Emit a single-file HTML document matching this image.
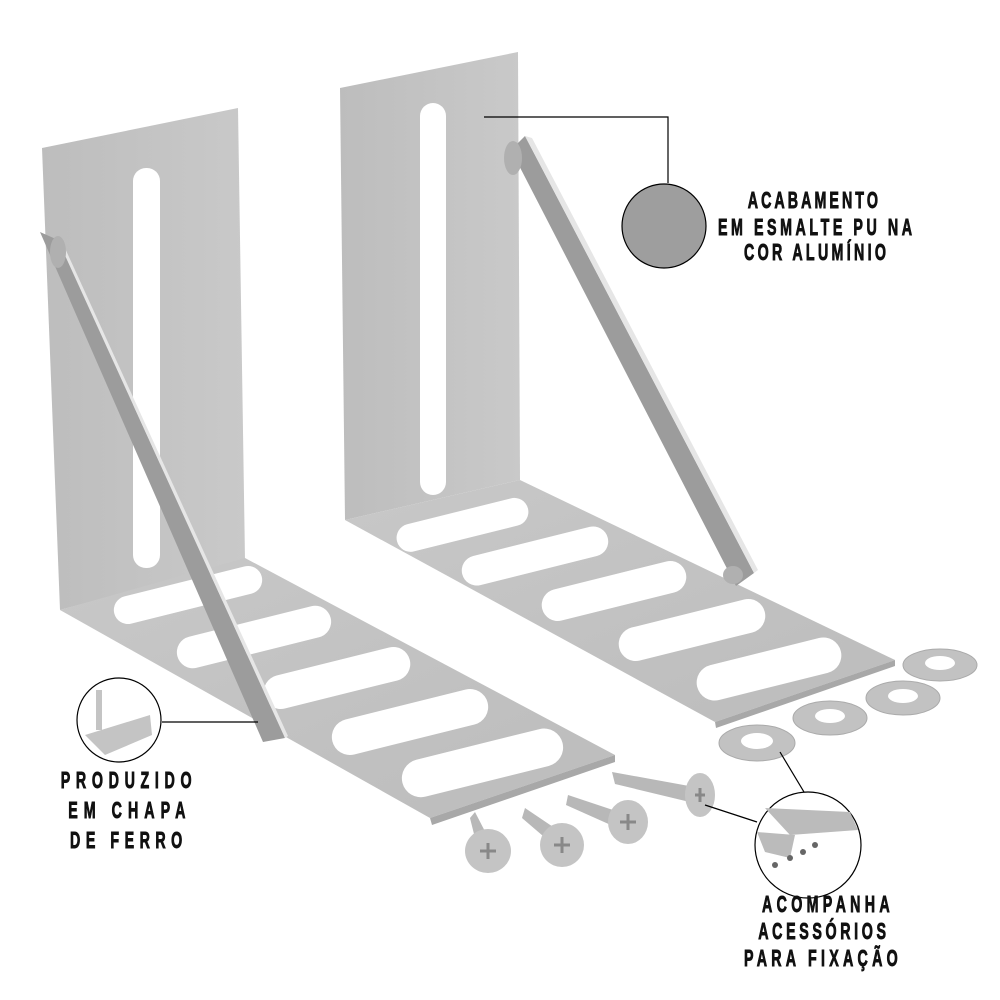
<!DOCTYPE html>
<html><head><meta charset="utf-8"><style>
html,body{margin:0;padding:0;background:#fff;width:1000px;height:1000px;overflow:hidden}
svg{display:block}
text{font-family:"Liberation Sans",sans-serif;font-weight:bold;font-size:23px;fill:#111;stroke:#111;stroke-width:0.9px}
</style></head><body>
<svg width="1000" height="1000" viewBox="0 0 1000 1000" xmlns="http://www.w3.org/2000/svg">
<defs>
<linearGradient id="up" x1="0" y1="0" x2="1" y2="0"><stop offset="0" stop-color="#bdbdbd"/><stop offset="1" stop-color="#c9c9c9"/></linearGradient>
<linearGradient id="bs" x1="0" y1="0" x2="1" y2="1"><stop offset="0" stop-color="#c8c8c8"/><stop offset="1" stop-color="#bcbcbc"/></linearGradient>
</defs>
<!-- RIGHT BRACKET -->
<polygon points="340,88 518,52 520,480 345,520" fill="url(#up)"/>
<rect x="420" y="103" width="26" height="392" rx="13" fill="#fff"/>
<polygon points="345,520 520,480 895,660 715,722" fill="url(#bs)"/>
<polygon points="715,722 895,660 895,666 716,728" fill="#a8a8a8"/>
<g fill="#fff">
<rect x="395" y="511" width="135" height="28" rx="14" transform="rotate(-14 462 525)"/>
<rect x="460" y="541" width="150" height="30" rx="15" transform="rotate(-14 535 556)"/>
<rect x="540" y="575" width="148" height="32" rx="16" transform="rotate(-14 614 591)"/>
<rect x="617" y="613" width="150" height="34" rx="17" transform="rotate(-14 692 630)"/>
<rect x="695" y="651" width="148" height="36" rx="18" transform="rotate(-14 769 669)"/>
</g>
<polygon points="511,150 525,136 754,573 736,586" fill="#9c9c9c"/>
<polygon points="525,136 532,138 758,570 754,573" fill="#e6e6e6"/>
<ellipse cx="513" cy="158" rx="9" ry="17" fill="#b0b0b0"/>
<ellipse cx="733" cy="575" rx="10" ry="9" fill="#b0b0b0"/>
<!-- LEFT BRACKET -->
<polygon points="42,148 238,108 245,560 60,610" fill="url(#up)"/>
<rect x="133" y="168" width="27" height="400" rx="13" fill="#fff"/>
<polygon points="60,610 245,558 615,755 430,818" fill="url(#bs)"/>
<polygon points="430,818 615,755 615,762 432,825" fill="#a8a8a8"/>
<g fill="#fff">
<rect x="112" y="581" width="152" height="28" rx="14" transform="rotate(-14 188 595)"/>
<rect x="175" y="621" width="158" height="32" rx="16" transform="rotate(-14 254 637)"/>
<rect x="262" y="661" width="150" height="34" rx="17" transform="rotate(-14 337 678)"/>
<rect x="330" y="704" width="160" height="36" rx="18" transform="rotate(-14 410 722)"/>
<rect x="400" y="744" width="165" height="38" rx="19" transform="rotate(-14 482 763)"/>
</g>
<polygon points="40,232 58,240 285,738 263,742" fill="#9c9c9c"/>
<polygon points="58,240 64,246 288,736 285,738" fill="#e6e6e6"/>
<ellipse cx="58" cy="252" rx="8" ry="16" fill="#b0b0b0"/>
<!-- WASHERS -->
<g fill="#c2c2c2" stroke="#aaa" stroke-width="1">
<ellipse cx="757" cy="743" rx="38" ry="18"/><ellipse cx="830" cy="718" rx="37" ry="17"/>
<ellipse cx="903" cy="698" rx="37" ry="17"/><ellipse cx="940" cy="665" rx="37" ry="16"/>
</g>
<g fill="#fff"><ellipse cx="757" cy="741" rx="16" ry="8"/><ellipse cx="830" cy="716" rx="15" ry="7"/><ellipse cx="903" cy="696" rx="15" ry="7"/><ellipse cx="940" cy="663" rx="15" ry="7"/></g>
<!-- SCREWS -->
<g fill="#b8b8b8">
<polygon points="612,772 700,788 698,804 615,784"/>
<polygon points="568,795 628,815 622,830 566,805"/>
<polygon points="525,808 565,835 557,848 522,818"/>
<polygon points="475,812 492,845 478,850 470,818"/>
<ellipse cx="700" cy="795" rx="15" ry="22" fill="#c4c4c4"/>
<ellipse cx="628" cy="822" rx="20" ry="22" fill="#c4c4c4"/>
<ellipse cx="562" cy="845" rx="22" ry="22" fill="#c4c4c4"/>
<ellipse cx="488" cy="851" rx="23" ry="22" fill="#c4c4c4"/>
</g>
<g stroke="#888" stroke-width="3"><path d="M480 851h16M488 843v16M554 845h16M562 837v16M620 822h16M628 814v16M695 795h10M700 788v14"/></g>
<!-- CALLOUTS -->
<polyline points="484,117 668,117 668,183" fill="none" stroke="#000" stroke-width="1.2"/>
<circle cx="664" cy="226" r="42" fill="#9e9e9e" stroke="#000" stroke-width="1.2"/>
<line x1="162" y1="722" x2="258" y2="722" stroke="#000" stroke-width="1.2"/>
<circle cx="119" cy="720" r="42" fill="#fff" stroke="#000" stroke-width="1.2"/>
<g fill="#c4c4c4"><polygon points="85,735 150,715 152,735 105,755"/><rect x="96" y="690" width="6" height="40"/></g>
<line x1="705" y1="805" x2="757" y2="822" stroke="#000" stroke-width="1.2"/>
<line x1="780" y1="752" x2="810" y2="802" stroke="#000" stroke-width="1.2"/>
<circle cx="808" cy="845" r="53" fill="#fff" stroke="#000" stroke-width="1.2"/>
<polygon points="765,808 850,812 858,830 790,835" fill="#bbb"/>
<polygon points="757,832 795,835 790,858 765,852" fill="#bbb"/>
<g fill="#666"><circle cx="775" cy="865" r="3"/><circle cx="790" cy="858" r="3"/><circle cx="803" cy="852" r="3"/><circle cx="815" cy="845" r="3"/></g>
<!-- TEXT (condensed via scale 0.62) -->
<g transform="scale(0.62 1)">
<text x="1206" y="208" textLength="210" lengthAdjust="spacing">ACABAMENTO</text>
<text x="1158" y="235" textLength="313" lengthAdjust="spacing">EM ESMALTE PU NA</text>
<text x="1200" y="260" textLength="229" lengthAdjust="spacing">COR ALUMÍNIO</text>
<text x="98" y="788" textLength="211" lengthAdjust="spacing">PRODUZIDO</text>
<text x="110" y="818" textLength="189" lengthAdjust="spacing">EM CHAPA</text>
<text x="113" y="848" textLength="181" lengthAdjust="spacing">DE FERRO</text>
<text x="1229" y="912" textLength="206" lengthAdjust="spacing">ACOMPANHA</text>
<text x="1223" y="939" textLength="206" lengthAdjust="spacing">ACESSÓRIOS</text>
<text x="1200" y="966" textLength="248" lengthAdjust="spacing">PARA FIXAÇÃO</text>
</g>
</svg>
</body></html>
